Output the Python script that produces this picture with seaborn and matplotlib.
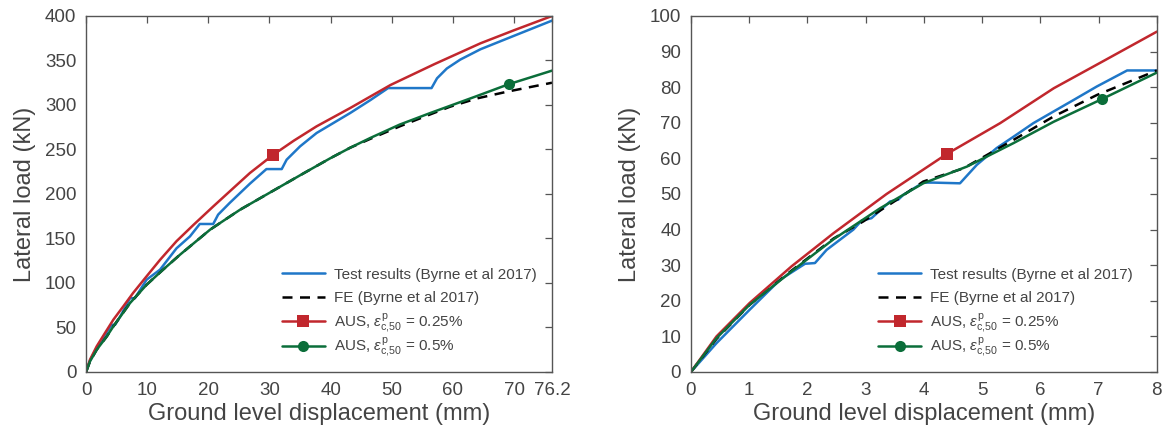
import numpy as np
import pandas as pd
import seaborn as sns
import matplotlib.pyplot as plt
from matplotlib.lines import Line2D

# ---- left panel (76.2 mm) ----
L_test_x = [0, 0.6, 1.74, 3.0, 4.2, 4.74, 5.6, 7.2, 8.0, 9.9, 12.1, 14.8, 17.0, 18.6, 20.8, 21.6,
            23.5, 26.8, 29.5, 32.0, 32.8, 35.0, 37.7, 43.2, 46.5, 49.4, 56.5, 57.4, 59.0, 61.2,
            64.5, 69.9, 76.2]
L_test_y = [0, 12, 27, 41, 53, 53, 62.5, 83, 83, 103.7, 115, 139, 152.4, 166.3, 166.3, 176.8,
            190, 211.6, 228, 228, 238.5, 253.5, 268.5, 291, 305.5, 319, 319, 330, 341, 351,
            362.6, 377.5, 394.8]

L_fe_x = [0, 0.65, 1.74, 3.4, 4.47, 7.2, 9.9, 12.6, 15.4, 20.3, 25.2, 31.7, 35.0, 39.9, 43.2,
          46.5, 51.3, 55.0, 59.5, 64.0, 69.1, 76.2]
L_fe_y = [0, 12, 25, 40, 51.3, 77.5, 98, 115, 132, 160, 182.4, 208, 221, 240, 252,
          262, 276, 286, 298, 307.5, 315.3, 325]

L_r25_x = [0, 0.65, 1.74, 3.1, 4.47, 6.1, 7.7, 9.9, 12.1, 14.8, 17.6, 20.8, 24.1, 26.8, 30.6,
           34.0, 37.7, 43.2, 49.8, 57.0, 64.5, 70.0, 76.2]
L_r25_y = [0, 13.9, 28.8, 43.8, 58.8, 73.8, 88.8, 107.5, 126, 147, 165.5, 186, 206.7, 223.6, 244,
           260, 276, 296.6, 322.5, 346, 369.3, 384, 400]

L_r50_x = [0, 0.65, 1.74, 3.4, 4.47, 7.2, 9.9, 12.6, 15.4, 20.3, 25.2, 31.7, 35.0, 39.9, 43.2,
           46.5, 51.3, 56.3, 63.7, 69.1, 76.2]
L_r50_y = [0, 12, 25, 40, 51.3, 77.5, 98, 115, 132, 160, 182.4, 208, 221, 240, 252,
           263, 278, 291, 309.5, 323.3, 338.6]

# ---- right panel (8 mm) ----
R_test_x = [0, 0.44, 1.01, 1.53, 1.96, 2.13, 2.33, 2.79, 2.93, 3.10, 3.42, 3.56, 3.65, 3.99, 4.16,
            4.62, 4.91, 5.25, 5.54, 5.88, 6.23, 6.57, 6.97, 7.49, 8.0]
R_test_y = [0, 8.1, 17.5, 25.9, 30.4, 30.6, 34.3, 40, 42.5, 43.2, 47.9, 48.4, 49.8, 53.2, 53.2,
            53.0, 58.2, 62.9, 66.1, 69.9, 73.2, 76.4, 80.2, 84.7, 84.7]

R_fe_x = [0, 0.44, 1.01, 1.73, 2.45, 2.96, 3.5, 3.99, 4.68, 5.54, 6.23, 6.97, 8.0]
R_fe_y = [0, 9.3, 18.9, 28.5, 37.5, 42.3, 48.0, 53.5, 57.2, 65.2, 71.8, 77.8, 84.7]

R_r25_x = [0, 0.44, 1.01, 1.73, 2.45, 3.36, 4.39, 5.31, 6.23, 7.1, 8.0]
R_r25_y = [0, 10, 19.4, 29.7, 39, 50, 61.2, 69.9, 79.7, 87.5, 95.6]

R_r50_x = [0, 0.44, 1.01, 1.73, 2.45, 3.25, 3.99, 4.74, 5.54, 6.23, 7.05, 8.0]
R_r50_y = [0, 9.5, 18.9, 28.3, 37.3, 46.0, 53.0, 57.7, 64.3, 70.3, 76.6, 84.1]

L_xticks = [0, 10, 20, 30, 40, 50, 60, 70, 76.2]
L_xticklabels = ["0", "10", "20", "30", "40", "50", "60", "70", "76.2"]
L_yticks = list(range(0, 401, 50))
R_xticks = list(range(0, 9))
R_yticks = list(range(0, 101, 10))

labels = ["Test results (Byrne et al 2017)",
          "FE (Byrne et al 2017)",
          r"AUS, $\varepsilon^{\rm p}_{\rm c{,}50}$ = 0.25%",
          r"AUS, $\varepsilon^{\rm p}_{\rm c{,}50}$ = 0.5%"]

c_blue = "#1f77c8"
c_red = "#c1272d"
c_green = "#0b6e3a"
c_grey = "#555555"
c_text = "#444444"

sns.set_style("white")
plt.rcParams["font.family"] = ["Liberation Sans", "DejaVu Sans"]
plt.rcParams["mathtext.fontset"] = "custom"
plt.rcParams["mathtext.rm"] = "Liberation Sans"
plt.rcParams["mathtext.it"] = "Liberation Sans:italic"

fig = plt.figure(figsize=(11.69, 4.38), dpi=100)
ax1 = fig.add_axes([0.0736, 0.1507, 0.3986, 0.8128])
ax2 = fig.add_axes([0.591, 0.1507, 0.3986, 0.8128])


def panel(ax, tx, ty, fx, fy, ax_, ay_, bx, by, mk25, mk50, leg_x):
    sns.lineplot(x=tx, y=ty, ax=ax, color=c_blue, lw=1.8, estimator=None, sort=False)
    sns.lineplot(x=fx, y=fy, ax=ax, color="black", lw=1.8, estimator=None, sort=False,
                 linestyle=(0, (4, 3)))
    sns.lineplot(x=ax_, y=ay_, ax=ax, color=c_red, lw=1.8, estimator=None, sort=False,
                 marker="s", markersize=8, markevery=[mk25], markeredgewidth=0)
    sns.lineplot(x=bx, y=by, ax=ax, color=c_green, lw=1.8, estimator=None, sort=False,
                 marker="o", markersize=8, markevery=[mk50], markeredgewidth=0)
    handles = [Line2D([], [], color=c_blue, lw=1.8),
               Line2D([], [], color="black", lw=1.8, linestyle=(0, (4, 3))),
               Line2D([], [], color=c_red, lw=1.8, marker="s", markersize=8, markeredgewidth=0),
               Line2D([], [], color=c_green, lw=1.8, marker="o", markersize=8, markeredgewidth=0)]
    # two legends so plain and mathtext rows get the same pitch
    kw = dict(loc="center left", frameon=False, fontsize=11, handlelength=2.8,
              handletextpad=0.6)
    leg1 = ax.legend(handles[:2], labels[:2], bbox_to_anchor=(leg_x, 0.240),
                     labelspacing=0.62, **kw)
    ax.add_artist(leg1)
    leg2 = ax.legend(handles[2:], labels[2:], bbox_to_anchor=(leg_x, 0.103),
                     labelspacing=0.1, **kw)
    for leg in (leg1, leg2):
        for t in leg.get_texts():
            t.set_color(c_text)
    ax.tick_params(direction="in", top=True, right=True, length=5, width=0.9,
                   color=c_grey, labelsize=13.5, labelcolor=c_text, pad=7)
    for s in ax.spines.values():
        s.set_color(c_grey)
        s.set_linewidth(1.0)
    ax.set_xlabel("Ground level displacement (mm)", fontsize=17, color=c_text, labelpad=3)
    ax.set_ylabel("Lateral load (kN)", fontsize=17, color=c_text, labelpad=6)


panel(ax1, L_test_x, L_test_y, L_fe_x, L_fe_y, L_r25_x, L_r25_y, L_r50_x, L_r50_y, 14, 19, 0.391)
ax1.set_xlim(0, 76.2)
ax1.set_ylim(0, 400)
ax1.set_xticks(L_xticks)
ax1.set_xticklabels(L_xticklabels)
ax1.set_yticks(L_yticks)

panel(ax2, R_test_x, R_test_y, R_fe_x, R_fe_y, R_r25_x, R_r25_y, R_r50_x, R_r50_y, 6, 10, 0.373)
ax2.set_xlim(0, 8)
ax2.set_ylim(0, 100)
ax2.set_xticks(R_xticks)
ax2.set_yticks(R_yticks)

fig.savefig("out.png", dpi=100)
